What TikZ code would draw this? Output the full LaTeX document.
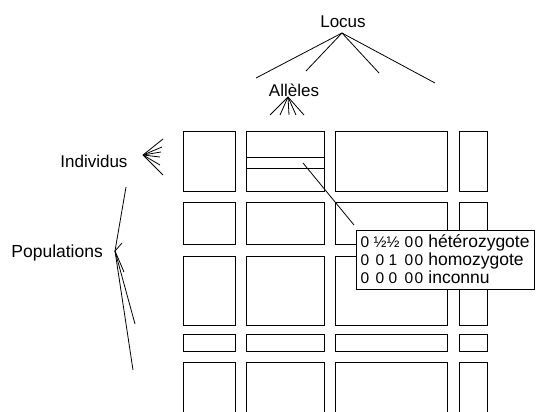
\documentclass[tikz,border=0pt]{standalone}
\usepackage{fontspec}
\setmainfont{Liberation Sans}
\usetikzlibrary{positioning}

\begin{document}
\begin{tikzpicture}[x=1pt,y=-1pt,line width=0.8pt,
  every node/.style={inner sep=0pt,font=\fontsize{17}{20}\selectfont},
  cell/.style={anchor=base,font=\fontsize{15.5}{19}\selectfont}]
   \useasboundingbox (0,0) rectangle (536,412);
   \clip (0,0) rectangle (536,412);
   % tableau
   \foreach \xa/\xb in {183/235,246/324,335/447,459/487}
     \foreach \ya/\yb in {131/191,202/244,256/325,334/351,362/420}
       \draw (\xa,\ya) rectangle (\xb,\yb);
   \draw (246,157) -- (324,157) (246,168) -- (324,168);
   % etiquettes
   \node[anchor=base] (locus) at (343,28) {Locus};
   \node[anchor=base] (alleles) at (294,97) {Allèles};
   \node[anchor=base west] (indiv) at (60,167) {Individus};
   \node[anchor=base west,font=\fontsize{17.5}{20}\selectfont] (pop) at (11,257) {Populations};
   \coordinate (L) at (342,33);
   \coordinate (A) at (288,97);
   \coordinate (I) at (143,155);
   \coordinate (P) at (115,251);
   \foreach \x/\y [count=\i] in {256/78,306/71,379/73,435/83}
     \draw (L) -- (\x,\y);
   \foreach \x in {270,280,289,296,304}
     \draw (A) -- (\x,115);
   \foreach \x/\y in {163/139,162/147,161/152,160/157,160/165,163/175}
     \draw (I) -- (\x,\y);
   \foreach \x/\y in {126/187,122/243,124/272,135/324,133/370}
     \draw (P) -- (\x,\y);
   % bulle
   \coordinate (cell) at (303,163);
   \node[draw,fill=white,minimum width=178pt,minimum height=59pt,anchor=north west]
     (geno) at (356,230) {};
   \draw (cell) -- (354,225);
   \foreach \a/\b/\c/\w/\y in {0/½/½/hétérozygote/247,0/0/1/homozygote/265,0/0/0/inconnu/283}{
     \node[cell] at (365,\y) {\a};
     \node[cell] at (380,\y) {\b};
     \node[cell] at (393,\y) {\c};
     \node[cell] at (409,\y) {0};
     \node[cell] at (419,\y) {0};
     \node[cell,anchor=base west,font=\fontsize{17.5}{19}\selectfont] at (428,\y) {\w};
   }
\end{tikzpicture}
\end{document}
